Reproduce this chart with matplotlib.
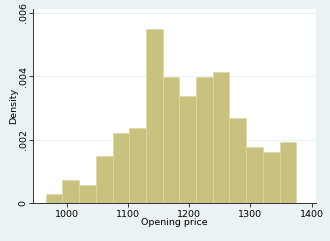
import numpy as np
import matplotlib
matplotlib.use("Agg")
import matplotlib.pyplot as plt

# histogram of opening prices (density per bin)
BIN_START = 965.7
BIN_WIDTH = 27.27
density = [0.00028, 0.00073, 0.00058, 0.00148, 0.00220, 0.00236, 0.00548,
           0.00399, 0.00339, 0.00399, 0.00415, 0.00267, 0.00178, 0.00162, 0.00193]
x_ticks = [1000, 1100, 1200, 1300, 1400]
y_ticks = [0, 0.002, 0.004, 0.006]
y_labels = ["0", ".002", ".004", ".006"]

BG = "#eaf2f3"
BAR = "#c9c27e"


def main():
    edges = BIN_START + BIN_WIDTH * np.arange(len(density))

    fig = plt.figure(figsize=(3.3, 2.41), dpi=100, facecolor=BG)
    ax = fig.add_axes([0.1, 0.1577, 0.8576, 0.805])
    ax.set_facecolor("white")

    for y in y_ticks[1:]:
        ax.axhline(y, color=BG, lw=0.8, zorder=0)

    ax.bar(edges, density, width=BIN_WIDTH, align="edge", color=BAR,
           edgecolor="#ddd8a8", linewidth=0.5, zorder=2)

    ax.set_xlim(944.9, 1407)
    ax.set_ylim(0, 0.006126)
    ax.set_xticks(x_ticks)
    ax.set_xticklabels([str(t) for t in x_ticks])
    ax.set_yticks(y_ticks)
    ax.set_yticklabels(y_labels, rotation=90, va="center")

    for s in ["top", "right"]:
        ax.spines[s].set_visible(False)
    for s in ["left", "bottom"]:
        ax.spines[s].set_color("#333333")
        ax.spines[s].set_linewidth(0.7)
    ax.tick_params(direction="out", length=3, width=0.7, color="#333333",
                   labelsize=6.8, pad=2)
    ax.tick_params(axis="y", pad=0.8)

    ax.set_xlabel("Opening price", fontsize=6.8, labelpad=-0.5)
    ax.set_ylabel("Density", fontsize=6.8, labelpad=0.5)

    fig.savefig("out.png", dpi=100, facecolor=BG)


if __name__ == "__main__":
    main()
